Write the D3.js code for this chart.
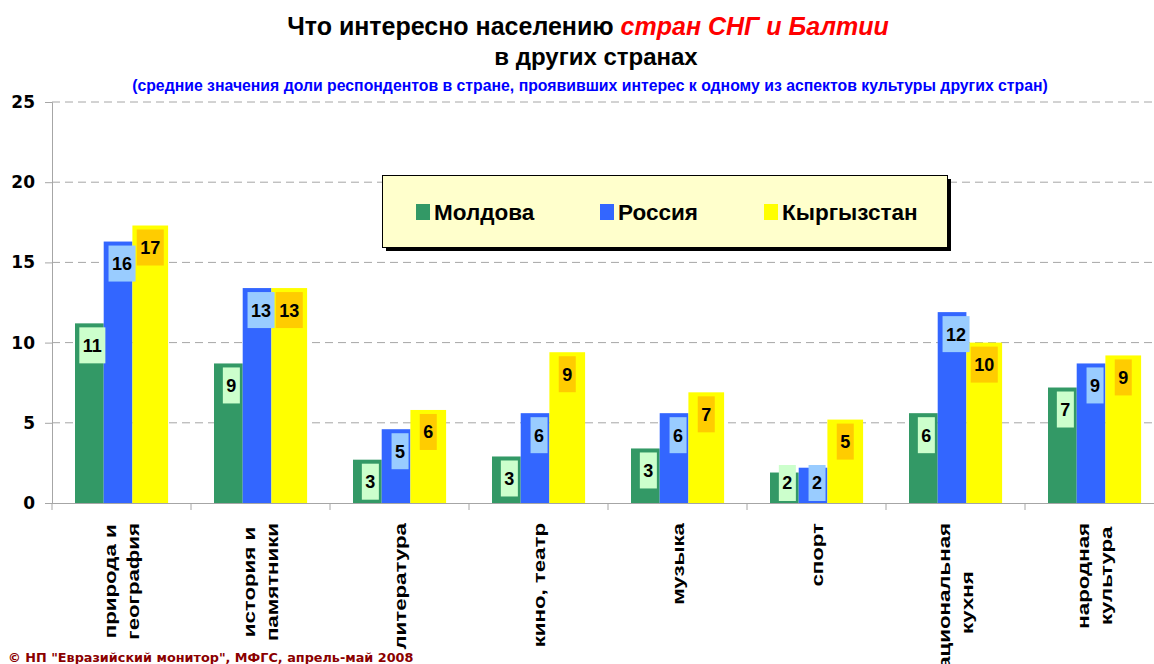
<!DOCTYPE html>
<html>
<head>
<meta charset="utf-8">
<script src="https://cdn.jsdelivr.net/npm/d3@7"></script>
<style>
  body { margin: 0; background: #fff; }
  text { font-family: "Liberation Sans", Arial, sans-serif; font-weight: bold; }
</style>
</head>
<body>
<svg width="1154" height="664"></svg>
<script>
// data
var categories = [["природа и", "география"], ["история и", "памятники"], ["литература"], ["кино, театр"],
                  ["музыка"], ["спорт"], ["национальная", "кухня"], ["народная", "культура"]];
var series = ["Молдова", "Россия", "Кыргызстан"];
var moldova    = [11.2, 8.7, 2.7, 2.9, 3.4, 1.9, 5.6, 7.2];
var russia     = [16.3, 13.4, 4.6, 5.6, 5.6, 2.2, 11.9, 8.7];
var kyrgyzstan = [17.3, 13.4, 5.8, 9.4, 6.9, 5.2, 10.0, 9.2];
var yTicks = [0, 5, 10, 15, 20, 25];

var barColors = ["#339966", "#3366FF", "#FFFF00"];
var labelFills = ["#CCFFCC", "#99CCFF", "#FFCC00"];
var values = [moldova, russia, kyrgyzstan];

var svg = d3.select("svg");

// scales
var x = d3.scaleBand().domain(d3.range(categories.length)).range([52, 52 + 139 * 8]);
var inner = d3.scaleBand().domain(d3.range(3)).range([23, 23 + 3 * 28.7]);
var y = d3.scaleLinear().domain([0, 25]).range([503, 102]);

// gridlines
svg.append("g")
    .selectAll("line")
    .data(yTicks.filter(function (d) { return d > 0; }))
    .enter()
    .append("line")
    .attr("x1", 52).attr("x2", 1154)
    .attr("y1", function (d) { return y(d); })
    .attr("y2", function (d) { return y(d); })
    .style("stroke", "#a6a6a6")
    .style("stroke-dasharray", "8,5")
    .style("stroke-width", 1);

// y axis
var yAxis = svg.append("g")
    .attr("transform", "translate(52,0)")
    .call(d3.axisLeft(y).tickValues(yTicks).tickSize(7).tickPadding(10));
yAxis.select(".domain").style("stroke", "#a6a6a6");
yAxis.selectAll(".tick line").style("stroke", "#a6a6a6");
yAxis.selectAll(".tick text")
    .style("font-family", "'DejaVu Sans', Verdana, sans-serif")
    .style("font-size", "17px")
    .style("fill", "#000");

// x axis line + ticks between categories
svg.append("line")
    .attr("x1", 52).attr("x2", 1154).attr("y1", 503.5).attr("y2", 503.5)
    .style("stroke", "#a6a6a6");
svg.append("g")
    .selectAll("line")
    .data(d3.range(categories.length + 1))
    .enter()
    .append("line")
    .attr("x1", function (d) { return x.step() * d + 52; })
    .attr("x2", function (d) { return x.step() * d + 52; })
    .attr("y1", 503).attr("y2", 510)
    .style("stroke", "#a6a6a6");

// bars
values.forEach(function (vals, s) {
    svg.append("g")
        .selectAll("rect")
        .data(vals)
        .enter()
        .append("rect")
        .attr("x", function (d, i) { return x(i) + inner(s); })
        .attr("width", s === 2 ? inner.bandwidth() + 7 : inner.bandwidth())
        .attr("y", function (d) { return y(d); })
        .attr("height", function (d) { return y(0) - y(d); })
        .attr("fill", barColors[s]);
});

// value labels
values.forEach(function (vals, s) {
    var g = svg.append("g")
        .selectAll("g")
        .data(vals)
        .enter()
        .append("g")
        .attr("transform", function (d, i) {
            var w = s === 2 ? inner.bandwidth() + 7 : inner.bandwidth();
            var cx = x(i) + inner(s) + w / 2 + (s === 0 ? 3 : s === 1 ? 4 : 0);
            var top = Math.min(y(d) + 4, 465);
            return "translate(" + cx + "," + top + ")";
        });
    g.append("rect").attr("fill", labelFills[s]);
    g.append("text")
        .attr("text-anchor", "middle")
        .attr("y", 18)
        .attr("dy", "0.36em")
        .style("font-size", "18px")
        .text(function (d) { return Math.round(d); });
    g.each(function () {
        var t = d3.select(this).select("text").node().getComputedTextLength();
        d3.select(this).select("rect")
            .attr("x", -(t + 7) / 2).attr("width", t + 7)
            .attr("y", 0).attr("height", 36);
    });
});

// category labels, rotated and stretched along the text (the original is stretched vertically)
var stretch = 1.31;
var catG = svg.append("g")
    .selectAll("g")
    .data(categories)
    .enter()
    .append("g")
    .attr("transform", function (d, i) {
        return "translate(" + (x(i) + x.bandwidth() / 2) + ",0) rotate(-90) scale(" + stretch + ",1)";
    });
catG.each(function (lines) {
    var g = d3.select(this);
    var texts = g.selectAll("text")
        .data(lines)
        .enter()
        .append("text")
        .style("font-size", "17px")
        .text(function (d) { return d; });
    var L = d3.max(texts.nodes(), function (n) { return n.getComputedTextLength(); });
    var n = lines.length;
    texts.attr("text-anchor", "middle")
        .attr("x", -(523 / stretch + L / 2))
        .attr("y", function (d, i) { return (i - (n - 1) / 2) * 24 + 6; });
});

// legend
var legend = svg.append("g");
legend.append("rect").attr("x", 386).attr("y", 179).attr("width", 565).attr("height", 72).attr("fill", "#000");
legend.append("rect").attr("x", 382.5).attr("y", 175.5).attr("width", 565).attr("height", 72)
    .attr("fill", "#FFFFCC").attr("stroke", "#000").attr("stroke-width", 1);
var legendX = [416, 600, 764];
series.forEach(function (name, s) {
    legend.append("rect").attr("x", legendX[s]).attr("y", 204).attr("width", 14).attr("height", 16).attr("fill", barColors[s]);
    legend.append("text").attr("x", legendX[s] + 18).attr("y", 212).attr("dy", "0.36em")
        .style("font-size", "22.5px").text(name);
});

// titles
var t1 = svg.append("text").attr("x", 588).attr("y", 35).attr("text-anchor", "middle").style("font-size", "25px");
t1.append("tspan").text("Что интересно населению ");
t1.append("tspan").style("fill", "#FF0000").style("font-style", "italic").text("стран СНГ и Балтии");
svg.append("text").attr("x", 596).attr("y", 65).attr("text-anchor", "middle").style("font-size", "24px").text("в других странах");
svg.append("text").attr("x", 590).attr("y", 91).attr("text-anchor", "middle").style("font-size", "15.8px").style("fill", "#0000FF")
    .text("(средние значения доли респондентов в стране, проявивших интерес к одному из аспектов культуры других стран)");

// footer
svg.append("text").attr("x", 8).attr("y", 662)
    .style("font-family", "'DejaVu Sans', Verdana, sans-serif").style("font-size", "12.8px").style("fill", "#8B0000")
    .text("© НП \"Евразийский монитор\", МФГС, апрель-май 2008");
</script>
</body>
</html>
